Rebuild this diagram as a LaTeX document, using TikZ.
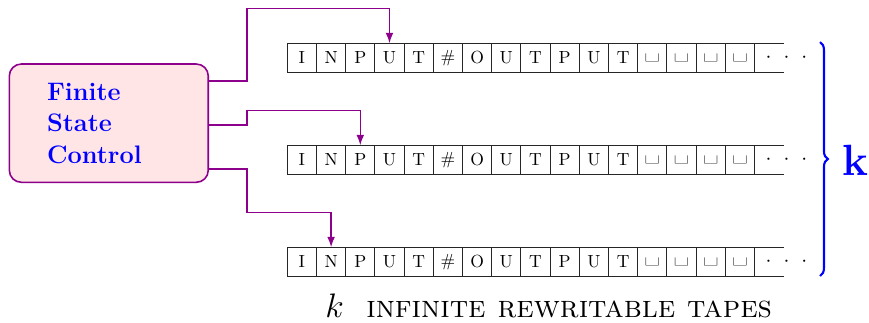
\documentclass[tikz,border=0pt]{standalone}
\usepackage{graphicx}
\usetikzlibrary{calc,decorations.pathreplacing,arrows.meta}
\definecolor{ctrl}{rgb}{0.55,0,0.55}
\newcommand\blanksym{\scalebox{1.8}[1.3]{\textvisiblespace}}
\begin{document}
\begin{tikzpicture}[x=0.02cm,y=-0.02cm,
  cell/.style={draw=black!85, line width=0.6pt, minimum width=0.584cm, minimum height=0.58cm, inner sep=0pt, outer sep=0pt, font=\normalsize},
  endcell/.style={minimum width=0.584cm, minimum height=0.58cm, inner sep=0pt, outer sep=0pt},
  tapeline/.style={draw=black!85, line width=0.6pt},
  conn/.style={draw=ctrl, line width=0.9pt, -{Latex[length=6pt,width=4.5pt]}},
  fscbox/.style={draw=ctrl, fill=red!10, line width=0.9pt, rounded corners=0.24cm, minimum width=3.98cm, minimum height=2.366cm, inner sep=0pt},
  bracestyle/.style={draw=blue, line width=1.2pt, decorate, decoration={brace, amplitude=4.5pt}}]
\useasboundingbox (0,0) rectangle (869,322);
% tapes
\foreach \r/\yc in {1/57.8, 2/159.8, 3/261.8} {
  \foreach \s [count=\i] in {I,N,P,U,T,\#,O,U,T,P,U,T,\blanksym,\blanksym,\blanksym,\blanksym} {
    \node[cell] (t\r c\i) at ({287.3+29.2*(\i-0.5)}, \yc) {\s};
  }
  \node[endcell] (t\r e) at ({287.3+29.2*16.5}, \yc) {};
  \draw[tapeline] (t\r e.north west) -- (t\r e.north east) (t\r e.south west) -- (t\r e.south east);
  \node[inner sep=0pt, font=\large] (t\r d) at (786.5, \yc) {$\cdot\hspace{4.2pt}\cdot\hspace{4.2pt}\cdot$};
}
% finite state control
\node[fscbox] (fsc) at (108.8,123.15) {};
\node[font=\Large\bfseries, text=blue, align=left, anchor=west, inner sep=0pt] (fsclabel) at (46.7,123.3) {Finite\\State\\Control};
% connectors
\coordinate (b1) at (247,8.7);
\coordinate (b2) at (247,110.7);
\coordinate (b3) at (247,212.3);
\draw[conn] ($(fsc.east)+(0,-42.15)$) -| (b1) -| (t1c4.north);
\draw[conn] ($(fsc.east)+(0,1.85)$) -| (b2) -| (t2c3.north);
\draw[conn] ($(fsc.east)+(0,45.85)$) -| (b3) -| (t3c2.north);
% brace
\coordinate (br1) at (820,42);
\coordinate (br2) at (820,276);
\draw[bracestyle] (br1) -- (br2);
\node[font=\Huge\bfseries, text=blue, inner sep=0pt] (kbrace) at (855,160) {k};
% caption
\node[anchor=base west, inner sep=0pt, font=\fontsize{17.8}{20}\selectfont] (caption) at (325,317.5) {\scalebox{1.12}{$k$}\hspace{0.72em}\textsc{infinite rewritable tapes}};
\end{tikzpicture}
\end{document}
